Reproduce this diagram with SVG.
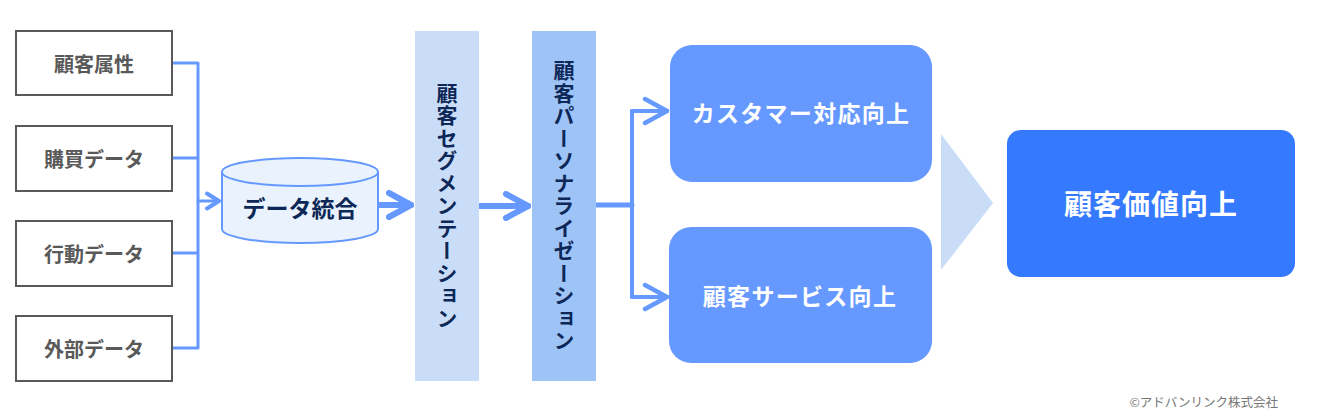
<svg xmlns="http://www.w3.org/2000/svg" width="1320" height="417" viewBox="0 0 1320 417">
<style>
.src rect{fill:#fff;stroke:#595959;stroke-width:2}
.src text{font-family:"Noto Sans CJK JP","Noto Sans",sans-serif;font-weight:700;font-size:20px;fill:#595959;text-anchor:middle;dominant-baseline:central}
.ln{fill:none;stroke:#6699ff;stroke-linecap:round;stroke-linejoin:round}
.vt{font-family:"Noto Sans CJK JP",sans-serif;font-weight:700;font-size:21px;fill:#0d2757;writing-mode:vertical-rl;text-anchor:middle;letter-spacing:1.5px}
.wt{font-family:"Noto Sans CJK JP",sans-serif;font-weight:700;fill:#fff;text-anchor:middle;dominant-baseline:central}
</style>
<defs>
<marker id="chevS" viewBox="0 0 20 20" markerWidth="20" markerHeight="20" refX="17" refY="10" orient="auto" markerUnits="userSpaceOnUse">
<path d="M5 2.5 L17 10 L5 17.5" fill="none" stroke="#6699ff" stroke-width="4" stroke-linecap="round" stroke-linejoin="round"/>
</marker>
<marker id="chevM" viewBox="0 0 30 30" markerWidth="30" markerHeight="30" refX="26" refY="15" orient="auto" markerUnits="userSpaceOnUse">
<path d="M4 3 L26 15 L4 27" fill="none" stroke="#6699ff" stroke-width="4.5" stroke-linecap="round" stroke-linejoin="round"/>
</marker>
<marker id="chevL" viewBox="0 0 30 30" markerWidth="30" markerHeight="30" refX="26" refY="15" orient="auto" markerUnits="userSpaceOnUse">
<path d="M4 3 L26 15 L4 27" fill="none" stroke="#6699ff" stroke-width="6" stroke-linecap="round" stroke-linejoin="round"/>
</marker>
</defs>
<rect width="1320" height="417" fill="#fff"/>
<g id="connectors">
<path class="ln" stroke-width="3" d="M172 63 H198 V348 H172 M172 158 H198 M172 253 H198"/>
<path class="ln" stroke-width="3" d="M198 201 H219" marker-end="url(#chevS)"/>
<path class="ln" stroke-width="6" d="M379 205 H411" marker-end="url(#chevL)"/>
<path class="ln" stroke-width="6" d="M480 206 H528" marker-end="url(#chevL)"/>
<path class="ln" stroke-width="5" d="M597 205 H632"/>
<path class="ln" stroke-width="4" d="M632 111 V297"/>
<path class="ln" stroke-width="4" d="M632 111 H667" marker-end="url(#chevM)"/>
<path class="ln" stroke-width="4" d="M632 297 H667" marker-end="url(#chevM)"/>
</g>
<g id="n-attr" class="src"><rect x="16" y="31" width="156" height="64"/><text x="94" y="63">顧客属性</text></g>
<g id="n-buy" class="src"><rect x="16" y="126" width="156" height="65"/><text x="94" y="158">購買データ</text></g>
<g id="n-act" class="src"><rect x="16" y="221" width="156" height="65"/><text x="94" y="253">行動データ</text></g>
<g id="n-ext" class="src"><rect x="16" y="316" width="156" height="65"/><text x="94" y="348">外部データ</text></g>
<g id="n-db">
<path d="M222 172 V229 A78 14 0 0 0 378 229 V172" fill="#eaf3fd" stroke="#6699ff" stroke-width="2"/>
<ellipse cx="300" cy="172" rx="78" ry="14" fill="#eaf3fd" stroke="#6699ff" stroke-width="2"/>
<text x="300" y="207" class="wt" style="fill:#0d2757;font-size:23px">データ統合</text>
</g>
<g id="n-seg">
<rect x="415" y="31" width="64" height="350" fill="#c9ddf9"/>
<text x="447" y="206" class="vt">顧客セグメンテーション</text>
</g>
<g id="n-pers">
<rect x="532" y="31" width="64" height="350" fill="#9ec4f7"/>
<text x="564" y="206" class="vt">顧客パーソナライゼーション</text>
</g>
<g id="n-cust">
<rect x="670" y="45" width="262" height="137" rx="22" fill="#6699ff"/>
<text x="801" y="112" class="wt" style="font-size:23px;letter-spacing:1.3px">カスタマー対応向上</text>
</g>
<g id="n-serv">
<rect x="669" y="227" width="263" height="136" rx="22" fill="#6699ff"/>
<text x="800" y="295" class="wt" style="font-size:23px;letter-spacing:1.3px">顧客サービス向上</text>
</g>
<g id="n-arrow">
<polygon points="941,134 993,203 941,270" fill="#c9ddf9"/>
</g>
<g id="n-value">
<rect x="1007" y="130" width="288" height="147" rx="14" fill="#3579ff"/>
<text x="1151" y="203" class="wt" style="font-size:28px;letter-spacing:1px">顧客価値向上</text>
</g>
<text x="1278" y="401" font-family="'Noto Sans CJK JP',sans-serif" font-size="12.5" fill="#777" text-anchor="end" dominant-baseline="central">©アドバンリンク株式会社</text>
</svg>
